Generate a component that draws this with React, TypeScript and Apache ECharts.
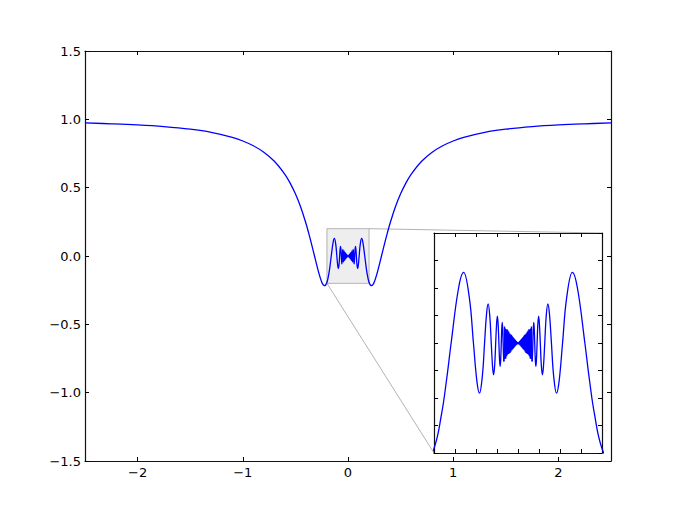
import React, { useEffect, useRef } from "react";
import * as echarts from "echarts";

// Curve: left branch (x from -2.5 to the start of the dense "bow-tie")
const LEFT_X = [-2.5, -2.25, -2.0, -1.75, -1.5, -1.3, -1.1, -1.0, -0.9, -0.8, -0.7, -0.6, -0.55, -0.5, -0.45, -0.4, -0.375, -0.35, -0.3183, -0.3, -0.275, -0.2547, -0.24, -0.2226, -0.2, -0.1819, -0.17, -0.1592, -0.1415, -0.1295, -0.1158, -0.1061, -0.0979, -0.0917, -0.0849, -0.0796, -0.0749, -0.0711, -0.067, -0.0637, -0.0606, -0.0581, -0.0554, -0.0531, -0.0509, -0.0491, -0.0472, -0.0455, -0.0439, -0.0425, -0.0411, -0.0398, -0.0386, -0.0375, -0.0364, -0.0354, -0.0344, -0.0335];
const LEFT_Y = [0.9736, 0.9674, 0.9589, 0.9463, 0.9276, 0.9045, 0.8679, 0.8415, 0.8066, 0.7592, 0.6929, 0.5972, 0.5332, 0.4547, 0.3579, 0.2394, 0.1715, 0.0981, 0, -0.0572, -0.1306, -0.1801, -0.2052, -0.2172, -0.1918, -0.1286, -0.0663, 0, 0.1, 0.1284, 0.0819, 0, -0.0693, -0.0913, -0.06, 0, 0.053, 0.0709, 0.0474, 0, -0.0429, -0.058, -0.0391, 0, 0.036, 0.049, 0.0334, 0, -0.0311, -0.0425, -0.029, 0, 0.0273, 0.0375, 0.0257, 0, -0.0243, -0.0335];

// Dense zig-zag around zero
const BOWTIE_X = [-0.0335, -0.032, -0.031, -0.03, -0.029, -0.028, -0.027, -0.026, -0.025, -0.024, -0.023, -0.022, -0.021, -0.02, -0.019, -0.018, -0.017, -0.016, -0.015, -0.014, -0.013, -0.012, -0.011, -0.01, -0.009, -0.008, -0.007, -0.006, -0.005, -0.004, -0.003, -0.002, -0.001, 0, 0.001, 0.002, 0.003, 0.004, 0.005, 0.006, 0.007, 0.008, 0.009, 0.01, 0.011, 0.012, 0.013, 0.014, 0.015, 0.016, 0.017, 0.018, 0.019, 0.02, 0.021, 0.022, 0.023, 0.024, 0.025, 0.026, 0.027, 0.028, 0.029, 0.03, 0.031, 0.032, 0.0335];
const BOWTIE_Y = [-0.0335, 0.03, -0.029, 0.0262, -0.028, 0.025, -0.024, 0.0252, -0.0215, 0.0228, -0.02, 0.0205, -0.019, 0.0178, -0.0182, 0.016, -0.0158, 0.015, -0.0132, 0.013, -0.0118, 0.0108, -0.01, 0.0092, -0.008, 0.0074, -0.0063, 0.0055, -0.0046, 0.0036, -0.0028, 0.0018, -0.0009, 0, -0.0009, 0.0018, -0.0028, 0.0036, -0.0046, 0.0055, -0.0063, 0.0074, -0.008, 0.0092, -0.01, 0.0108, -0.0118, 0.013, -0.0132, 0.015, -0.0158, 0.016, -0.0182, 0.0178, -0.019, 0.0205, -0.02, 0.0228, -0.0215, 0.0252, -0.024, 0.025, -0.028, 0.0262, -0.029, 0.03, -0.0335];

// Right branch
const RIGHT_X = [0.0335, 0.0344, 0.0354, 0.0364, 0.0375, 0.0386, 0.0398, 0.0411, 0.0425, 0.0439, 0.0455, 0.0472, 0.0491, 0.0509, 0.0531, 0.0554, 0.0581, 0.0606, 0.0637, 0.067, 0.0711, 0.0749, 0.0796, 0.0849, 0.0917, 0.0979, 0.1061, 0.1158, 0.1295, 0.1415, 0.1592, 0.17, 0.1819, 0.2, 0.2226, 0.24, 0.2547, 0.275, 0.3, 0.3183, 0.35, 0.375, 0.4, 0.45, 0.5, 0.55, 0.6, 0.7, 0.8, 0.9, 1.0, 1.1, 1.3, 1.5, 1.75, 2.0, 2.25, 2.5];
const RIGHT_Y = [-0.0335, -0.0243, 0, 0.0257, 0.0375, 0.0273, 0, -0.029, -0.0425, -0.0311, 0, 0.0334, 0.049, 0.036, 0, -0.0391, -0.058, -0.0429, 0, 0.0474, 0.0709, 0.053, 0, -0.06, -0.0913, -0.0693, 0, 0.0819, 0.1284, 0.1, 0, -0.0663, -0.1286, -0.1918, -0.2172, -0.2052, -0.1801, -0.1306, -0.0572, 0, 0.0981, 0.1715, 0.2394, 0.3579, 0.4547, 0.5332, 0.5972, 0.6929, 0.7592, 0.8066, 0.8415, 0.8679, 0.9045, 0.9276, 0.9463, 0.9589, 0.9674, 0.9736];

const X_TICKS = [-2, -1, 0, 1, 2];
const Y_MIN = -1.5;
const Y_MAX = 1.5;
const Y_STEP = 0.5;
const ZOOM_X = [-0.2, 0.2];
const ZOOM_Y = [-0.2, 0.2];
const ZOOM_STEP = 0.05;

const pairs = (xs: number[], ys: number[]) => xs.map((x, i) => [x, ys[i]]);
const fmt = (v: number, d: number) => v.toFixed(d).replace("-", "\u2212");

export default function App() {
  const ref = useRef<HTMLDivElement>(null);
  useEffect(() => {
    const chart = echarts.init(ref.current!, null, { renderer: "svg" });
    const font = { fontFamily: "DejaVu Sans", fontSize: 13, color: "#000" };
    const axisLine = { show: true, onZero: false, lineStyle: { color: "#111", width: 1.2 } };
    const tick = (extra: any = {}) => ({ show: true, inside: true, length: 4, lineStyle: { color: "#000", width: 1 }, ...extra });
    const noLabel = { show: false };
    const noSplit = { show: false };

    const mainX = (pos: string, labels: boolean) => ({
      type: "value", gridIndex: 0, position: pos, min: -2.5, max: 2.5,
      axisLine, splitLine: noSplit,
      axisTick: tick({ customValues: X_TICKS }),
      axisLabel: labels ? { ...font, margin: 5, customValues: X_TICKS, formatter: (v: number) => fmt(v, 0) } : noLabel,
    });
    const mainY = (pos: string, labels: boolean) => ({
      type: "value", gridIndex: 0, position: pos, min: Y_MIN, max: Y_MAX, interval: Y_STEP,
      axisLine, splitLine: noSplit, axisTick: tick(),
      axisLabel: labels ? { ...font, margin: 4, formatter: (v: number) => fmt(v, 1) } : noLabel,
    });
    const insetX = (pos: string) => ({
      type: "value", gridIndex: 1, position: pos, min: ZOOM_X[0], max: ZOOM_X[1], interval: ZOOM_STEP,
      axisLine, splitLine: noSplit, axisTick: tick(), axisLabel: noLabel,
    });
    const insetY = (pos: string) => ({
      type: "value", gridIndex: 1, position: pos, min: ZOOM_Y[0], max: ZOOM_Y[1], interval: ZOOM_STEP,
      axisLine, splitLine: noSplit, axisTick: tick(), axisLabel: noLabel,
    });

    const curve = (data: number[][], smooth: any, xi: number, yi: number) => ({
      type: "line", xAxisIndex: xi, yAxisIndex: yi, data, smooth, symbol: "none", z: 3,
      lineStyle: { color: "#0000ff", width: 1.3 }, silent: true, clip: true,
    });

    const left = pairs(LEFT_X, LEFT_Y);
    const bow = pairs(BOWTIE_X, BOWTIE_Y);
    const right = pairs(RIGHT_X, RIGHT_Y);

    chart.setOption({
      animation: false,
      backgroundColor: "#fff",
      grid: [
        { left: 85, top: 51, width: 526, height: 410 },
        { left: 434, top: 233, width: 168, height: 220, show: true, backgroundColor: "#fff", borderWidth: 0 },
      ],
      xAxis: [mainX("bottom", true), mainX("top", false), insetX("bottom"), insetX("top")],
      yAxis: [mainY("left", true), mainY("right", false), insetY("left"), insetY("right")],
      series: [
        {
          type: "line", xAxisIndex: 0, yAxisIndex: 0, data: [[0, 0]], symbol: "none",
          lineStyle: { opacity: 0 }, z: 1, silent: true,
          markArea: {
            silent: true,
            itemStyle: { color: "#eeeeee", borderColor: "#b3b3b3", borderWidth: 1 },
            data: [[{ coord: [ZOOM_X[0], ZOOM_Y[1]] }, { coord: [ZOOM_X[1], ZOOM_Y[0]] }]],
          },
        },
        curve(left, 0.4, 0, 0),
        curve(bow, false, 0, 0),
        curve(right, 0.4, 0, 0),
        curve(left, 0.4, 2, 2),
        curve(bow, false, 2, 2),
        curve(right, 0.4, 2, 2),
      ],
    });

    const m1 = chart.convertToPixel({ seriesIndex: 1 }, [ZOOM_X[1], ZOOM_Y[1]]) as number[];
    const i1 = chart.convertToPixel({ seriesIndex: 4 }, [ZOOM_X[1], ZOOM_Y[1]]) as number[];
    const m2 = chart.convertToPixel({ seriesIndex: 1 }, [ZOOM_X[0], ZOOM_Y[0]]) as number[];
    const i2 = chart.convertToPixel({ seriesIndex: 4 }, [ZOOM_X[0], ZOOM_Y[0]]) as number[];
    const conn = (a: number[], b: number[]) => ({
      type: "line", silent: true, z: 0,
      shape: { x1: a[0], y1: a[1], x2: b[0], y2: b[1] },
      style: { stroke: "#b3b3b3", lineWidth: 1 },
    });
    chart.setOption({ graphic: [conn(m1, i1), conn(m2, i2)] });

    return () => chart.dispose();
  }, []);
  return <div ref={ref} style={{ position: "absolute", left: 0, top: 0, width: 679, height: 512 }} />;
}
